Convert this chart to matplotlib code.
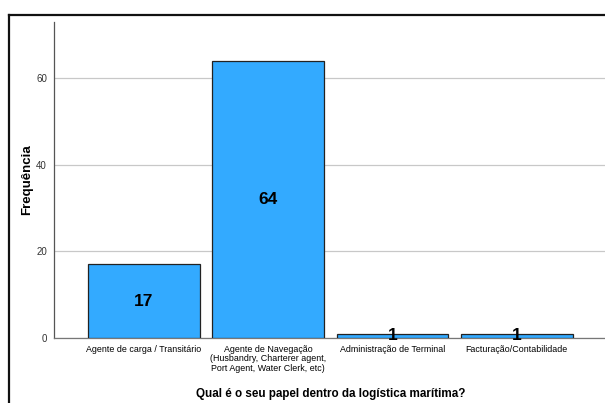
import matplotlib as mpl
mpl.use("Agg")
import matplotlib.pyplot as plt
from matplotlib.lines import Line2D

categories = [
    "Agente de carga / Transitário",
    "Agente de Navegação\n(Husbandry, Charterer agent,\nPort Agent, Water Clerk, etc)",
    "Administração de Terminal",
    "Facturação/Contabilidade",
]
counts = [17, 64, 1, 1]
y_ticks = [0, 20, 40, 60]

x_title = "Qual é o seu papel dentro da logística marítima?"
y_title = "Frequência"

bar_color = "#33aaff"
font = ["Liberation Sans Narrow", "Liberation Sans", "DejaVu Sans"]

fig = plt.figure(figsize=(6.05, 4.03), dpi=100)
ax = fig.add_axes([54 / 605, 65 / 403, 1 - 54 / 605, 316 / 403])

positions = list(range(len(categories)))
bars = ax.bar(positions, counts, width=0.9, color=bar_color,
              edgecolor="#222222", linewidth=0.9, zorder=3)

for rect, value in zip(bars, counts):
    ax.text(rect.get_x() + rect.get_width() / 2, value / 2, str(value),
            ha="center", va="center", fontsize=12.5, fontweight="bold",
            family=font, zorder=4)

ax.set_xlim(-0.724, 3.71)
ax.set_ylim(0, 72.9)
ax.set_yticks(y_ticks)
ax.set_xticks(positions)
ax.set_xticklabels(categories, fontsize=6.4, family=font, linespacing=1.05)
ax.tick_params(axis="x", length=0, pad=5)
ax.tick_params(axis="y", length=0, pad=5, labelsize=7, labelcolor="#333333")
for label in ax.get_yticklabels():
    label.set_family(font)

ax.grid(axis="y", color="#c8c8c8", linewidth=0.9, zorder=0)
for side in ["top", "right"]:
    ax.spines[side].set_visible(False)
ax.spines["left"].set_color("#555555")
ax.spines["bottom"].set_color("#777777")
ax.spines["left"].set_linewidth(0.9)
ax.spines["bottom"].set_linewidth(0.9)

ax.set_xlabel(x_title, fontsize=8.4, fontweight="bold", family=font)
ax.xaxis.set_label_coords((331 - 54) / 551, -50 / 316)
ax.set_ylabel(y_title, fontsize=9.5, fontweight="bold", family=font)
ax.yaxis.set_label_coords(-21 / 551, 0.5)

# outer chart frame, clipped by the figure on the right and bottom
frame_x = 9 / 605
frame_y = 1 - 15 / 403
fig.add_artist(Line2D([frame_x, frame_x], [0, frame_y], color="#111111",
                      linewidth=1.6, transform=fig.transFigure))
fig.add_artist(Line2D([frame_x, 1], [frame_y, frame_y], color="#111111",
                      linewidth=1.6, transform=fig.transFigure))

fig.savefig("out.png", dpi=100)
